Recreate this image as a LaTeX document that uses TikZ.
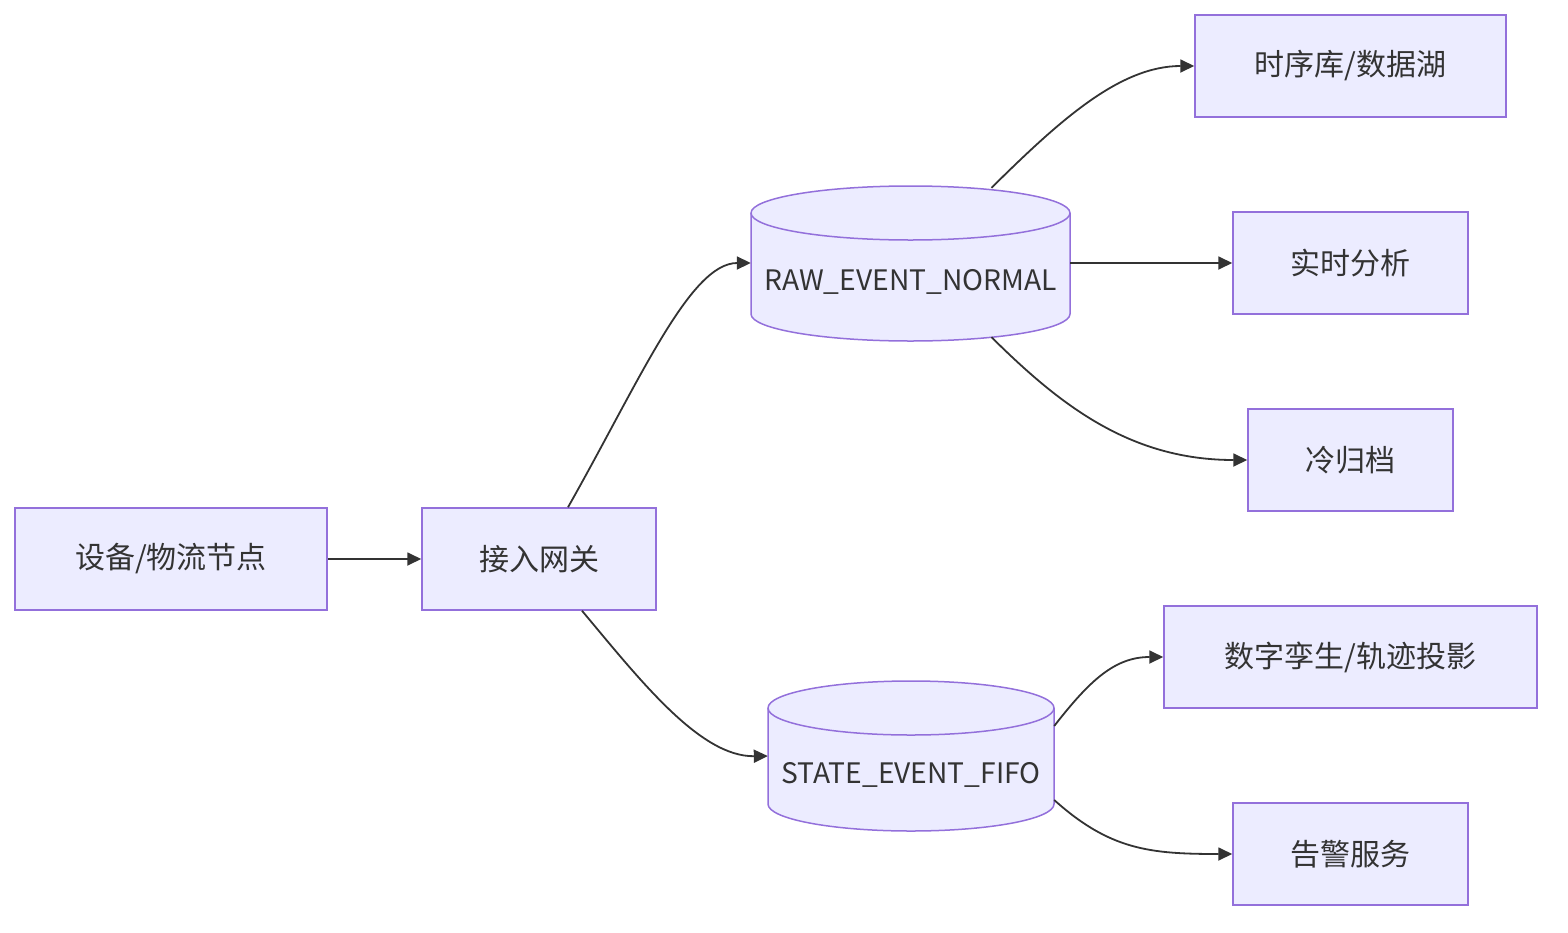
\documentclass[tikz,border=0pt]{standalone}
\usepackage{fontspec}
\setmainfont{Noto Sans CJK SC}
\usetikzlibrary{arrows.meta,calc}
\definecolor{nodefill}{HTML}{ECECFF}
\definecolor{nodeline}{HTML}{9370DB}
\definecolor{txt}{HTML}{333333}
\tikzset{
  box/.style={draw=nodeline, fill=nodefill, line width=1.5pt, inner sep=0pt, text=txt, font=\fontsize{30}{36}\selectfont},
  cyllabel/.style={inner sep=0pt, text=txt, font=\fontsize{28.2}{34}\selectfont},
  cylfill/.style={draw=nodeline, fill=nodefill, line width=1.5pt},
  edge/.style={draw=txt, line width=1.8pt, -{Triangle[length=14pt,width=13pt]}}
}
\begin{document}
\begin{tikzpicture}[x=1pt,y=-1pt]
\useasboundingbox (0,0) rectangle (1568,932);
% cylinders
\draw[cylfill] (751,213) -- (751,314) arc[start angle=180,end angle=0,x radius=159.5,y radius=27] -- (1070,213) arc[start angle=0,end angle=-180,x radius=159.5,y radius=27] -- cycle;
\draw[cylfill,fill=none] (751,213) arc[start angle=180,end angle=0,x radius=159.5,y radius=27];
\draw[cylfill] (768,708) -- (768,804) arc[start angle=180,end angle=0,x radius=143,y radius=27] -- (1054,708) arc[start angle=0,end angle=-180,x radius=143,y radius=27] -- cycle;
\draw[cylfill,fill=none] (768,708) arc[start angle=180,end angle=0,x radius=143,y radius=27];
\node[cyllabel, minimum width=319pt, minimum height=154pt] (raw) at (910.5,263) {};
\node[cyllabel] at (910.5,282) {RAW\_EVENT\_NORMAL};
\node[cyllabel, minimum width=286pt, minimum height=150pt] (state) at (911,756) {};
\node[cyllabel] at (911,775) {STATE\_EVENT\_FIFO};
% boxes
\node[box, minimum width=312pt, minimum height=102pt] (dev) at (171,559) {设备/物流节点};
\node[box, minimum width=234pt, minimum height=102pt] (gw) at (539,559) {接入网关};
\node[box, minimum width=311pt, minimum height=102pt] (tsdb) at (1350.5,66) {时序库/数据湖};
\node[box, minimum width=235pt, minimum height=102pt] (rt) at (1350.5,263) {实时分析};
\node[box, minimum width=205pt, minimum height=102pt] (cold) at (1350.5,460) {冷归档};
\node[box, minimum width=373pt, minimum height=102pt] (twin) at (1350.5,657) {数字孪生/轨迹投影};
\node[box, minimum width=235pt, minimum height=102pt] (alarm) at (1350.5,854) {告警服务};
% edges
\draw[edge] (dev.east) -- (gw.west);
\draw[edge] ([xshift=29pt]gw.north) .. controls (640,380) and (690,263) .. (raw.west);
\draw[edge] ([xshift=43pt]gw.south) .. controls (640,680) and (700,757) .. (state.west);
\draw[edge] ([xshift=81pt,yshift=-2pt]raw.north) .. controls (1060,120) and (1120,66) .. (tsdb.west);
\draw[edge] (raw.east) -- (rt.west);
\draw[edge] ([xshift=81pt,yshift=3pt]raw.south) .. controls (1060,405) and (1130,460) .. (cold.west);
\draw[edge] ([yshift=30pt]state.east) .. controls (1090,680) and (1115,657) .. (twin.west);
\draw[edge] ([yshift=-44pt]state.east) .. controls (1110,850) and (1150,854) .. (alarm.west);
\end{tikzpicture}
\end{document}
